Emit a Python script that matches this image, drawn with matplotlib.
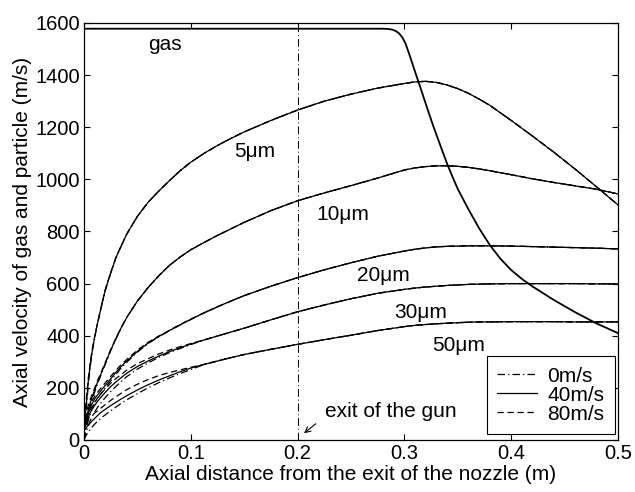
import matplotlib
matplotlib.use("Agg")
import matplotlib.pyplot as plt
from matplotlib.lines import Line2D

plt.rcParams['font.family'] = ['Liberation Sans', 'DejaVu Sans']

# axial distance (m): dense part near the nozzle exit, then the rest
x_head = [0, 0.001, 0.002, 0.004, 0.006, 0.008, 0.01, 0.0125, 0.015, 0.0175, 0.02,
          0.025, 0.03, 0.035, 0.04, 0.05, 0.06, 0.07, 0.08, 0.09, 0.1]
x_tail = [0.1125, 0.125, 0.1375, 0.15, 0.175, 0.2, 0.225, 0.25, 0.275, 0.3, 0.31, 0.32,
          0.33, 0.34, 0.35, 0.36, 0.37, 0.38, 0.4, 0.42, 0.44, 0.46, 0.48, 0.5]
x = x_head + x_tail

# gas velocity
x_gas = [0, 0.1, 0.2, 0.28, 0.285, 0.289, 0.292, 0.295, 0.298, 0.301, 0.305, 0.31, 0.315,
         0.32, 0.327, 0.335, 0.34, 0.345, 0.35, 0.36, 0.37, 0.38, 0.39, 0.4, 0.41, 0.42,
         0.44, 0.46, 0.48, 0.5]
v_gas = [1578, 1578, 1578, 1578, 1577, 1574, 1569, 1560, 1545, 1522, 1475, 1413, 1352,
         1290, 1205, 1115, 1060, 1010, 963, 885, 812, 748, 695, 652, 618, 589,
         537, 490, 447, 410]

# particle velocity far from the nozzle (same for all injection velocities)
t5 = [1100, 1130, 1157, 1182, 1226, 1266, 1300, 1327, 1350, 1368, 1374, 1376,
      1372, 1362, 1348, 1330, 1308, 1284, 1226, 1166, 1104, 1039, 971, 902]
t10 = [758, 785, 810, 835, 880, 918, 948, 976, 1005, 1036, 1044, 1049,
       1052, 1052, 1050, 1046, 1040, 1033, 1018, 1002, 988, 975, 962, 944]
t20 = [488, 511, 533, 554, 590, 623, 653, 680, 705, 725, 732, 737,
       741, 743, 744, 745, 745, 745, 744, 742, 740, 738, 736, 733]
t30 = [384, 399, 414, 429, 461, 492, 518, 542, 563, 578, 583, 587,
       590, 593, 595, 597, 598, 599, 600, 600, 600, 600, 599, 599]
t50 = [290, 303, 316, 328, 348, 367, 385, 402, 420, 435, 440, 443,
       446, 448, 450, 452, 453, 453, 454, 454, 454, 453, 453, 453]

# near the nozzle, injection 0 / 40 / 80 m/s
h5_0 = [0, 60, 110, 212, 288, 346, 393, 444, 489, 535, 575,
        640, 700, 745, 790, 858, 912, 955, 995, 1033, 1066]
h5_40 = [40, 85, 130, 225, 295, 350, 395, 445, 490, 535, 577,
         641, 701, 746, 790, 858, 912, 955, 995, 1033, 1066]
h5_80 = [80, 110, 150, 237, 302, 354, 397, 446, 491, 536, 578,
         642, 702, 746, 790, 858, 912, 955, 995, 1033, 1066]
h10_0 = [0, 30, 55, 97, 132, 160, 184, 214, 240, 266, 292,
         343, 389, 431, 470, 533, 585, 630, 670, 702, 730]
h10_40 = [40, 60, 80, 115, 145, 170, 192, 220, 245, 270, 295,
          345, 390, 432, 470, 533, 585, 630, 670, 702, 730]
h10_80 = [80, 92, 104, 132, 157, 180, 200, 226, 250, 274, 298,
          347, 391, 433, 471, 533, 585, 630, 670, 702, 730]
h20_0 = [0, 25, 42, 75, 102, 124, 142, 158, 173, 187, 200,
         227, 253, 277, 298, 337, 370, 396, 419, 441, 462]
h20_40 = [40, 60, 75, 102, 125, 143, 158, 172, 185, 198, 210,
          235, 260, 283, 303, 340, 372, 397, 420, 442, 463]
h20_80 = [80, 88, 96, 115, 136, 154, 169, 182, 195, 208, 220,
          244, 268, 290, 309, 345, 375, 399, 421, 443, 464]
h30_0 = [0, 18, 30, 55, 76, 93, 108, 124, 138, 151, 163,
         186, 206, 225, 243, 272, 296, 317, 335, 351, 366]
h30_40 = [40, 52, 63, 88, 106, 120, 133, 147, 160, 172, 183,
          205, 223, 240, 256, 282, 303, 322, 339, 354, 368]
h30_80 = [80, 85, 90, 102, 118, 132, 145, 160, 173, 185, 196,
          218, 236, 252, 268, 293, 312, 330, 345, 358, 370]
h50_0 = [0, 10, 18, 30, 42, 52, 61, 71, 80, 89, 97,
         112, 127, 141, 154, 178, 200, 220, 238, 255, 270]
h50_40 = [40, 44, 48, 56, 66, 75, 83, 93, 103, 111, 118,
          132, 145, 158, 170, 192, 212, 230, 246, 262, 276]
h50_80 = [80, 81, 82, 86, 91, 97, 103, 112, 120, 128, 136,
          152, 166, 180, 193, 214, 232, 247, 259, 269, 279]

tails = [t5, t10, t20, t30, t50]
heads_0 = [h5_0, h10_0, h20_0, h30_0, h50_0]
heads_40 = [h5_40, h10_40, h20_40, h30_40, h50_40]
heads_80 = [h5_80, h10_80, h20_80, h30_80, h50_80]

fig = plt.figure(figsize=(6.35, 4.92), dpi=100)
ax = fig.add_axes([0.1323, 0.1057, 0.8409, 0.8476])

lw = 0.9
dashdot = (0, (6, 2.5, 1, 2.5))
dashed = (0, (5, 3))
for h, t in zip(heads_0, tails):
    ax.plot(x, h + t, color="black", linestyle=dashdot, linewidth=lw)
for h, t in zip(heads_40, tails):
    ax.plot(x, h + t, color="black", linestyle="-", linewidth=lw)
for h, t in zip(heads_80, tails):
    ax.plot(x, h + t, color="black", linestyle=dashed, linewidth=lw)
ax.plot(x_gas, v_gas, color="black", linewidth=1.3)

ax.axvline(0.2, color="black", linestyle=(0, (8, 3, 1, 3)), linewidth=0.7)

ax.set_xlim(0, 0.5)
ax.set_ylim(0, 1600)
ax.set_xticks([0, 0.1, 0.2, 0.3, 0.4, 0.5])
ax.set_xticklabels(["0", "0.1", "0.2", "0.3", "0.4", "0.5"])
ax.set_yticks(range(0, 1601, 200))
ax.tick_params(direction="in", length=4, width=0.8, top=True, right=True,
               labelsize=14.5, pad=3)
for sp in ax.spines.values():
    sp.set_linewidth(0.9)

ax.set_xlabel("Axial distance from the exit of the nozzle (m)", fontsize=15, labelpad=1)
ax.set_ylabel("Axial velocity of gas and particle (m/s)", fontsize=15, labelpad=2)

fs = 15
ax.text(0.076, 1516, "gas", fontsize=fs, ha="center", va="center")
ax.text(0.16, 1105, "5\u03bcm", fontsize=fs, ha="center", va="center")
ax.text(0.242, 867, "10\u03bcm", fontsize=fs, ha="center", va="center")
ax.text(0.28, 630, "20\u03bcm", fontsize=fs, ha="center", va="center")
ax.text(0.315, 491, "30\u03bcm", fontsize=fs, ha="center", va="center")
ax.text(0.351, 361, "50\u03bcm", fontsize=fs, ha="center", va="center")
ax.text(0.2257, 111, "exit of the gun", fontsize=fs, ha="left", va="center")
ax.annotate("", xy=(0.204, 19), xytext=(0.219, 69),
            arrowprops=dict(arrowstyle="->", color="black", lw=0.8))

handles = [Line2D([], [], color="black", linestyle=dashdot, linewidth=lw),
           Line2D([], [], color="black", linestyle="-", linewidth=lw),
           Line2D([], [], color="black", linestyle=dashed, linewidth=lw)]
leg = ax.legend(handles, ["0m/s", "40m/s", "80m/s"], loc="lower right",
                bbox_to_anchor=(0.994, 0.014), borderaxespad=0, fontsize=15,
                handlelength=1.9, handletextpad=0.5, borderpad=0.5, labelspacing=0.0,
                fancybox=False, framealpha=1)
leg.get_frame().set_edgecolor("black")
leg.get_frame().set_linewidth(0.8)

plt.savefig("out.png", dpi=100)
